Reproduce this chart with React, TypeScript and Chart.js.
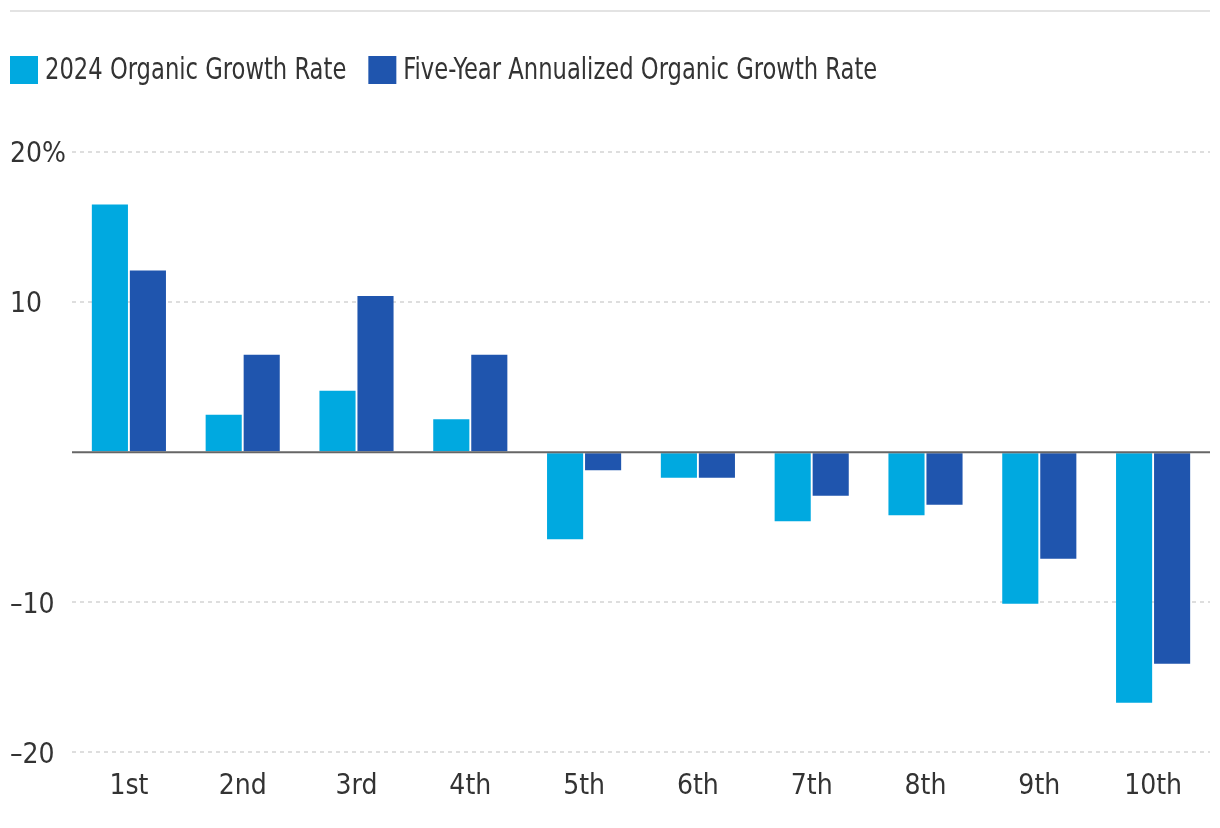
import React, { useEffect, useRef } from "react";
import { Chart, registerables } from "chart.js";

Chart.register(...registerables);

const categories = ["1st", "2nd", "3rd", "4th", "5th", "6th", "7th", "8th", "9th", "10th"];
const growth2024 = [16.5, 2.5, 4.1, 2.2, -5.8, -1.7, -4.6, -4.2, -10.1, -16.7];
const growthFiveYear = [12.1, 6.5, 10.4, 6.5, -1.2, -1.7, -2.9, -3.5, -7.1, -14.1];
const seriesNames = ["2024 Organic Growth Rate", "Five-Year Annualized Organic Growth Rate"];
const seriesColors = ["#00A9E0", "#1F55AE"];
const yTicks = [-20, -10, 0, 10, 20];

const FONT = "'Liberation Sans Narrow', 'DejaVu Sans Condensed', 'Roboto Condensed', 'Arial Narrow', sans-serif";

export default function App() {
  const ref = useRef<HTMLCanvasElement | null>(null);

  useEffect(() => {
    document.body.style.margin = "0";
    const canvas = ref.current;
    if (!canvas) return;

    const decor = {
      id: "decor",
      beforeDraw(chart: any) {
        const ctx = chart.ctx;
        ctx.save();
        ctx.strokeStyle = "#e3e3e3";
        ctx.lineWidth = 2;
        ctx.beginPath();
        ctx.moveTo(10, 11);
        ctx.lineTo(1210, 11);
        ctx.stroke();
        ctx.restore();
      },
      afterDatasetsDraw(chart: any) {
        const ctx = chart.ctx;
        const y = chart.scales.y.getPixelForValue(0);
        const { left, right } = chart.chartArea;
        ctx.save();
        ctx.strokeStyle = "#666666";
        ctx.lineWidth = 2;
        ctx.beginPath();
        ctx.moveTo(left, y);
        ctx.lineTo(right, y);
        ctx.stroke();
        ctx.restore();
      },
      afterDraw(chart: any) {
        const ctx = chart.ctx;
        ctx.save();
        ctx.font = `30px ${FONT}`;
        ctx.textBaseline = "middle";
        const sx = 0.84;
        let x = 10;
        seriesNames.forEach((name, i) => {
          ctx.fillStyle = seriesColors[i];
          ctx.fillRect(x, 56, 28, 28);
          ctx.fillStyle = "#333333";
          const tx = x + 35;
          ctx.save();
          ctx.translate(tx, 71);
          ctx.scale(sx, 1);
          ctx.fillText(name, 0, 0);
          ctx.restore();
          x = tx + ctx.measureText(name).width * sx + 22;
        });
        ctx.restore();
      },
    };

    const chart = new Chart(canvas, {
      type: "bar",
      data: {
        labels: categories,
        datasets: [
          { label: seriesNames[0], data: growth2024, backgroundColor: seriesColors[0], categoryPercentage: 0.668, barPercentage: 0.95 },
          { label: seriesNames[1], data: growthFiveYear, backgroundColor: seriesColors[1], categoryPercentage: 0.668, barPercentage: 0.95 },
        ],
      },
      options: {
        animation: false,
        responsive: false,
        devicePixelRatio: 1,
        layout: { padding: { left: 10, right: 10, top: 152, bottom: 14 } },
        plugins: { legend: { display: false }, tooltip: { enabled: false } },
        scales: {
          x: {
            grid: { display: false },
            border: { display: false },
            ticks: { color: "#333333", font: { family: FONT, size: 28 }, padding: 10 },
          },
          y: {
            min: -20,
            max: 20,
            afterFit: (scale: any) => {
              scale.width = 62;
            },
            afterBuildTicks: (scale: any) => {
              scale.ticks = yTicks.map((v) => ({ value: v }));
            },
            border: { display: false, dash: [4, 4] },
            grid: {
              color: (c: any) => (c.tick && c.tick.value === 0 ? "rgba(0,0,0,0)" : "#dedede"),
              lineWidth: 2,
              drawTicks: false,
            },
            ticks: {
              color: "#333333",
              font: { family: FONT, size: 28 },
              crossAlign: "far",
              padding: 0,
              labelOffset: 3,
              callback: (v: any) => {
                const n = Number(v);
                if (n === 20) return "20%";
                if (n < 0) return "\u2013" + Math.abs(n);
                if (n === 0) return "";
                return String(n);
              },
            },
          },
        },
      },
      plugins: [decor],
    });

    return () => chart.destroy();
  }, []);

  return <canvas ref={ref} width={1220} height={828} style={{ display: "block", width: 1220, height: 828 }} />;
}
